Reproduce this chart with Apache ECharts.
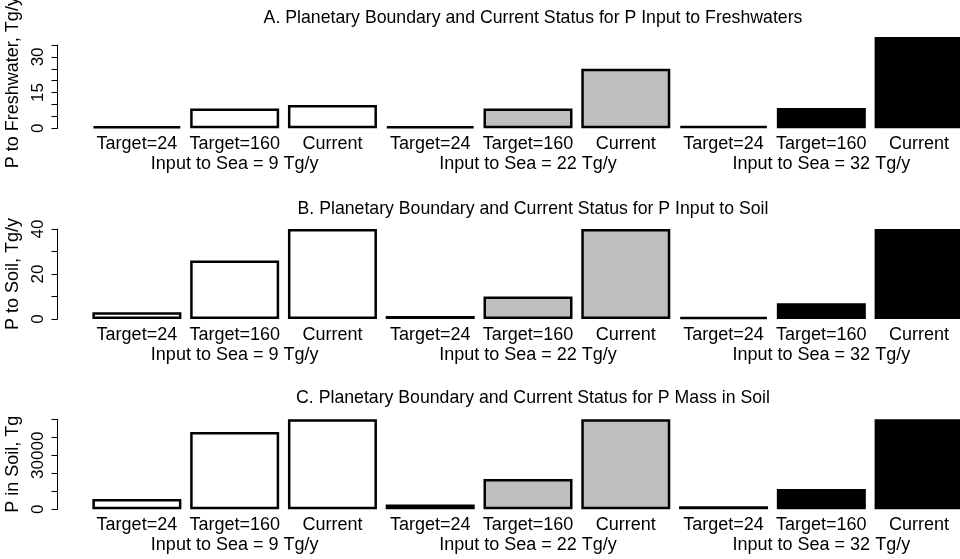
<!DOCTYPE html>
<html>
<head>
<meta charset="utf-8">
<script src="https://cdn.jsdelivr.net/npm/echarts@6/dist/echarts.min.js"></script>
<style>html,body{margin:0;padding:0;background:#fff;}#c{width:960px;height:559px;}</style>
</head>
<body>
<div id="c"></div>
<script>
const barLabels = ["Target=24","Target=160","Current","Target=24","Target=160","Current","Target=24","Target=160","Current"];
const groupLabels = ["Input to Sea = 9 Tg/y","Input to Sea = 22 Tg/y","Input to Sea = 32 Tg/y"];
const groupColors = ["#ffffff","#bebebe","#000000"];
const freshwaterValues = [0.9, 8.3, 9.8, 0.9, 8.3, 25.0, 1.0, 8.5, 38.4];
const soilInputValues = [3.0, 26.0, 40.0, 1.3, 10.0, 40.0, 1.0, 7.0, 40.0];
const soilMassValues = [5700, 43000, 50000, 2600, 16800, 50000, 1700, 11300, 50000];
const panelTitles = [
  "A. Planetary Boundary and Current Status for P Input to Freshwaters",
  "B. Planetary Boundary and Current Status for P Input to Soil",
  "C. Planetary Boundary and Current Status for P Mass in Soil"
];
const yNames = ["P to Freshwater, Tg/y","P to Soil, Tg/y","P in Soil, Tg"];
const yMax = [35, 40, 50000];
const yInterval = [5, 10, 10000];
const yShownLabels = [[0,15,30],[0,20,40],[0,30000]];

const FONT = "Liberation Sans, Arial, sans-serif";
const gridTop = [45, 229, 419.3];
const gridH = [83.3, 90, 90];
const titleTop = [4, 195, 384];
const namePad = [[0,0,0,8],[0,0,0,0],[0,0,0,0]];
const valuesList = [freshwaterValues, soilInputValues, soilMassValues];

const grids = [], xAxes = [], yAxes = [], series = [], titles = [];
for (let p = 0; p < 3; p++) {
  grids.push({left: 88, width: 880, top: gridTop[p], height: gridH[p], containLabel: false, outerBoundsMode: 'none'});
  xAxes.push({
    type: 'category', gridIndex: p, data: barLabels, position: 'bottom',
    axisLine: {show: false}, axisTick: {show: false},
    axisLabel: {interval: 0, color: '#000', fontFamily: FONT, fontSize: 18, margin: 7}
  });
  xAxes.push({
    type: 'category', gridIndex: p, data: groupLabels, position: 'bottom', offset: 20,
    axisLine: {show: false}, axisTick: {show: false},
    axisLabel: {interval: 0, color: '#000', fontFamily: FONT, fontSize: 18, margin: 7}
  });
  const shown = yShownLabels[p];
  yAxes.push({
    type: 'value', gridIndex: p, min: 0, max: yMax[p], interval: yInterval[p],
    position: 'left', offset: 30.5,
    name: yNames[p], nameLocation: 'middle', nameGap: 30, nameRotate: 90,
    nameTextStyle: {color: '#000', fontFamily: FONT, fontSize: 18, padding: namePad[p]},
    axisLine: {show: true, lineStyle: {color: '#000', width: 1}},
    axisTick: {show: true, length: 6, lineStyle: {color: '#000', width: 1}},
    splitLine: {show: false},
    axisLabel: {
      rotate: 90, margin: 11, color: '#000', fontFamily: FONT, fontSize: 17,
      formatter: v => shown.indexOf(v) >= 0 ? String(v) : ''
    }
  });
  series.push({
    type: 'bar', xAxisIndex: 2 * p, yAxisIndex: p, barWidth: 89, clip: false,
    data: valuesList[p].map((v, i) => ({
      value: v,
      itemStyle: {color: groupColors[Math.floor(i / 3)], borderColor: '#000', borderWidth: 2.5}
    })),
    animation: false
  });
  titles.push({
    text: panelTitles[p], left: 528, textAlign: 'center', top: titleTop[p],
    textStyle: {color: '#000', fontFamily: FONT, fontSize: 17.7, fontWeight: 'normal'}
  });
}

const chart = echarts.init(document.getElementById('c'), null, {renderer: 'canvas'});
chart.setOption({
  animation: false,
  backgroundColor: '#fff',
  title: titles,
  grid: grids,
  xAxis: xAxes,
  yAxis: yAxes,
  series: series
});
</script>
</body>
</html>
